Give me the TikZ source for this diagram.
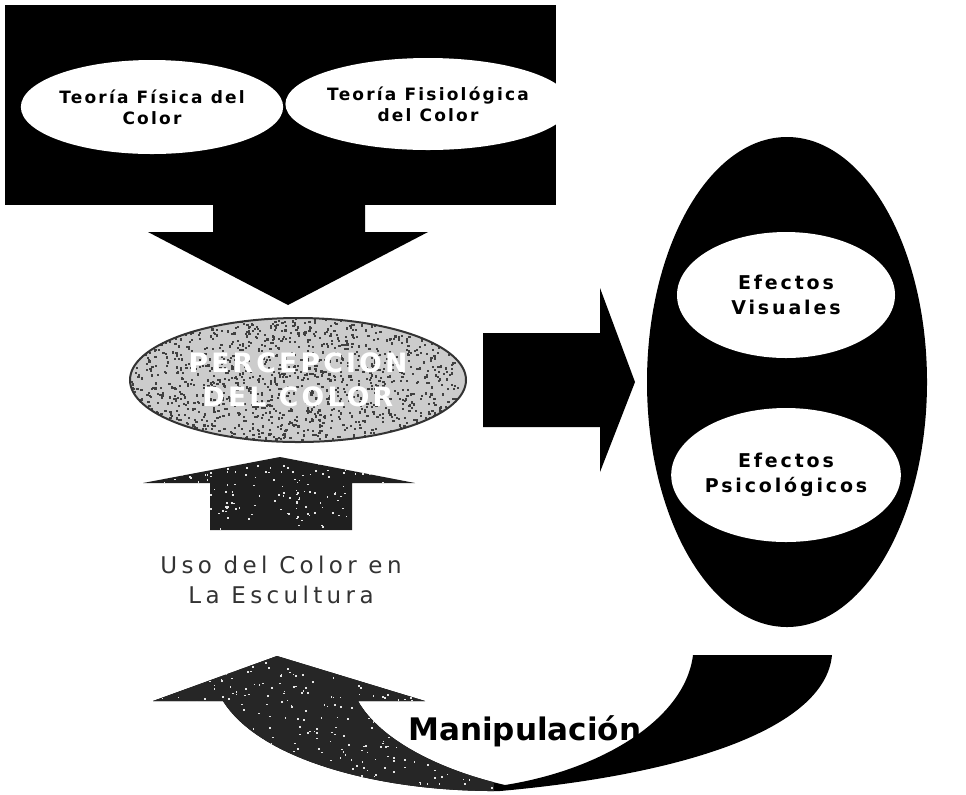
\documentclass[tikz,border=0pt]{standalone}
\usepackage{fontspec}
\setmainfont{DejaVu Sans}
\newfontfamily\teofont[LetterSpace=13]{DejaVu Sans}
\newfontfamily\efefont[LetterSpace=15]{DejaVu Sans}
\newfontfamily\usofont[LetterSpace=19]{DejaVu Sans}
\newfontfamily\perfont[LetterSpace=12]{DejaVu Sans}
\usetikzlibrary{shapes.geometric}
\tikzset{
  wellipse/.style={ellipse, fill=white, inner sep=0pt, align=center, text=black},
  teotext/.style={font=\teofont\bfseries\fontsize{12.75}{15.75}\selectfont},
  efetext/.style={font=\efefont\bfseries\fontsize{14.25}{18.4}\selectfont},
  blockarrow/.style={fill=black},
}
\begin{document}
\begin{tikzpicture}[x=0.75pt,y=-0.75pt]
\useasboundingbox (0,0) rectangle (966,794);
\fill[white] (0,0) rectangle (966,794);

% top black panel
\fill[black] (5,5) rectangle (556,205);
\node[wellipse, teotext, minimum width=174pt, minimum height=70.5pt] (fis) at (152,107) {Teoría Física del\\Color};
\node[wellipse, teotext, minimum width=172.5pt, minimum height=69pt] (fisio) at (428,104) {Teoría Fisiológica\\del Color};

% down arrow
\fill[blockarrow] (213,204) -- (365,204) -- (365,232) -- (428,232) -- (288,305) -- (148,232) -- (213,232) -- cycle;

% perception ellipse (speckled)
\path[fill=black!20, draw=black!80, line width=1.5pt,
      path picture={
        \pgfmathsetseed{7}
        \foreach \k in {1,...,1500}{
          \pgfmathsetmacro\xx{128+342*rnd}
          \pgfmathsetmacro\yy{316+130*rnd}
          \fill[black!75] (\xx,\yy) rectangle ++(2.2,2.2);
        }
      }] (298,380) ellipse [x radius=168, y radius=62];
\node[align=center, text=white, font=\perfont\bfseries\fontsize{20}{25.5}\selectfont] (perc) at (298,380) {PERCEPCION\\DEL COLOR};

% up arrow (speckled dark)
\fill[black!88, path picture={
        \pgfmathsetseed{11}
        \foreach \k in {1,...,220}{
          \pgfmathsetmacro\xx{143+272*rnd}
          \pgfmathsetmacro\yy{457+73*rnd}
          \fill[white!80!gray] (\xx,\yy) rectangle ++(1.6,1.6);
        }}]
  (280,457) -- (415,483) -- (352,483) -- (352,530) -- (210,530) -- (210,483) -- (143,483) -- cycle;

% text below
\node[align=center, text=black!80, font=\usofont\fontsize{17.25}{22.5}\selectfont] (uso) at (281,580) {Uso del Color en\\La Escultura};

% right arrow
\fill[blockarrow] (483,333) -- (600,333) -- (600,288) -- (635,382) -- (600,472) -- (600,427) -- (483,427) -- cycle;

% big ellipse with effects
\node[ellipse, fill=black, inner sep=0pt, minimum width=210pt, minimum height=367.5pt] (efectos) at (787,382) {};
\node[wellipse, efetext, minimum width=163.5pt, minimum height=94.5pt] (vis) at (786,295) {Efectos\\Visuales};
\node[wellipse, efetext, minimum width=163.5pt, minimum height=100.5pt] (psi) at (786,475) {Efectos\\Psicológicos};

% curved return arrow
\fill[black, path picture={
        \fill[black!85] (100,600) rectangle (494,800);
        \pgfmathsetseed{23}
        \foreach \k in {1,...,420}{
          \pgfmathsetmacro\xx{150+344*rnd}
          \pgfmathsetmacro\yy{655+140*rnd}
          \fill[white!80!gray] (\xx,\yy) rectangle ++(1.6,1.6);
        }}]
  (693,655) -- (832,655) .. controls (825,730) and (680,775) .. (500,791)
  .. controls (380,792) and (260,760) .. (223,701)
  -- (153,701) -- (277,656) -- (425,701) -- (358,701)
  .. controls (380,740) and (440,770) .. (505,785)
  .. controls (600,770) and (685,720) .. (693,655) -- cycle;

\node[anchor=base west, inner sep=0pt, font=\bfseries\fontsize{23.3}{27}\selectfont] (manip) at (408,740) {Manipulación};
\end{tikzpicture}
\end{document}
